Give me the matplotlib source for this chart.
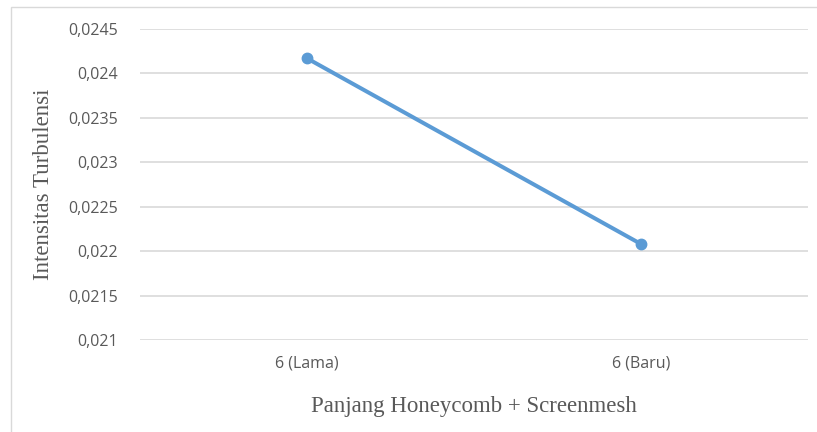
import matplotlib.pyplot as plt
import matplotlib.patches as mpatches
import matplotlib.ticker as mtick
import numpy as np

categories = ['6 (Lama)', '6 (Baru)']
intensity = [0.02417, 0.02208]
y_ticks = [0.021, 0.0215, 0.022, 0.0225, 0.023, 0.0235, 0.024, 0.0245]

fig = plt.figure(figsize=(8.17, 4.32), dpi=100)
ax = fig.add_axes([140 / 817, 1 - 340 / 432, 668 / 817, 311 / 432])

# chart frame (only left/top edges visible in the reference)
fig.patches.append(mpatches.Rectangle((11 / 817, -0.1), 1.2, 1 - 7 / 432 + 0.1,
                                      transform=fig.transFigure, fill=False,
                                      edgecolor='#d9d9d9', linewidth=1))

x = np.arange(len(categories))
ax.plot(x, intensity, color='#5B9BD5', linewidth=2.9, marker='o', markersize=7.5,
        solid_capstyle='round', zorder=3)

ax.set_xlim(-0.5, len(categories) - 0.5)
ax.set_ylim(y_ticks[0], y_ticks[-1])
ax.set_yticks(y_ticks)
ax.yaxis.set_major_formatter(mtick.FuncFormatter(lambda v, p: ('%g' % round(v, 6)).replace('.', ',')))
ax.set_xticks(x)
ax.set_xticklabels(categories)

for s in ax.spines.values():
    s.set_visible(False)
ax.grid(axis='y', color='#d9d9d9', linewidth=1.2)
ax.set_axisbelow(True)
ax.tick_params(length=0, labelsize=11.5, labelcolor='#595959', pad=16)
ax.tick_params(axis='x', pad=11)
for lab in ax.get_xticklabels() + ax.get_yticklabels():
    lab.set_family('Open Sans')

ax.set_xlabel('Panjang Honeycomb + Screenmesh', family='Liberation Serif',
              fontsize=16.5, color='#595959', labelpad=18)
ax.set_ylabel('Intensitas Turbulensi', family='Liberation Serif',
              fontsize=16.5, color='#595959', labelpad=10)

fig.savefig('out.png', dpi=100)
